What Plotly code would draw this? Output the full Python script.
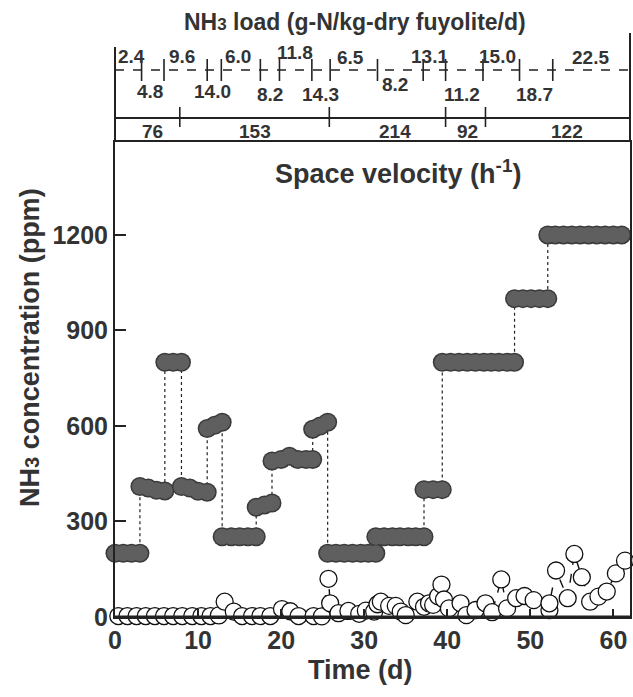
import plotly.graph_objects as go

# ---------------- data ----------------
# Inlet NH3 concentration (filled circles), ppm
inlet_days = [0, 1, 2, 3.0,
              3.0, 4, 5, 6.0,
              6.0, 7, 8.0,
              8.0, 9, 10, 11.1,
              11.1, 12, 12.9,
              12.9, 14, 15, 16, 17.0,
              17.0, 18, 18.9,
              18.9, 20, 21, 22, 23, 23.8,
              23.8, 24.7, 25.6,
              25.6, 26.6, 27.6, 28.6, 29.6, 30.5, 31.4,
              31.4, 32.4, 33.4, 34.3, 35.3, 36.2, 37.2,
              37.2, 38.3, 39.4,
              39.4, 40.4, 41.4, 42.4, 43.4, 44.4, 45.3, 46.2, 47.2, 48.1,
              48.1, 49.1, 50.1, 51.1, 52.1,
              52.1, 53, 54, 55, 56, 57, 58, 59, 60, 61.0]
inlet_ppm = [200, 200, 200, 200,
             410, 405, 398, 396,
             800, 800, 800,
             410, 405, 395, 392,
             592, 602, 612,
             252, 252, 252, 252, 252,
             345, 352, 358,
             490, 495, 505, 495, 495, 495,
             590, 600, 612,
             200, 200, 200, 200, 200, 200, 200,
             252, 252, 252, 252, 252, 252, 252,
             400, 400, 400,
             800, 800, 800, 800, 800, 800, 800, 800, 800, 800,
             1000, 1000, 1000, 1000, 1000,
             1200, 1200, 1200, 1200, 1200, 1200, 1200, 1200, 1200, 1200]

# Outlet NH3 concentration (open circles), ppm
outlet_days = [0.4, 1.5, 2.6, 3.7, 4.8, 5.9, 7.0, 8.1, 9.3, 10.4, 11.5, 12.5,
               13.2, 14.3, 15.3, 16.5, 17.5, 18.7, 20.1, 21.1, 22.1, 23.9, 24.9,
               25.7, 25.9, 26.9, 28.1, 29.4, 30.2, 31.2, 31.6, 32.0, 33.0, 33.8,
               34.4, 35.0, 36.4, 37.2, 37.8, 38.3, 38.9, 39.3, 39.6, 40.2, 41.6,
               42.3, 43.4, 44.6, 45.4, 46.5, 47.2, 48.3, 49.3, 50.4, 52.3, 52.3,
               53.1, 54.5, 55.3, 56.2, 57.2, 58.2, 59.2, 60.3, 61.4]
outlet_ppm = [3, 3, 3, 3, 3, 3, 3, 3, 3, 3, 3, 5,
              48, 17, 3, 3, 3, 3, 25, 18, 3, 3, 2,
              120, 43, 12, 19, 10, 20, 17, 40, 48, 35, 35,
              17, 6, 48, 32, 43, 38, 65, 102, 55, 27, 43,
              6, 22, 43, 15, 118, 27, 59, 66, 53, 22, 43,
              146, 59, 198, 125, 48, 64, 80, 137, 177]

x_ticks = [0, 10, 20, 30, 40, 50, 60]
y_ticks = [0, 300, 600, 900, 1200]

# NH3 load (g-N/kg-dry fuyolite/d) per period, and the days the load changed
load_values = ["2.4", "4.8", "9.6", "14.0", "6.0", "8.2", "11.8", "14.3",
               "6.5", "8.2", "13.1", "11.2", "15.0", "18.7", "22.5"]
load_change_days = [3.2, 5.9, 11.1, 12.8, 17.5, 19.8, 23.7, 25.9,
                    31.6, 37.1, 39.8, 44.3, 48.7, 52.7]

# Space velocity (h-1) per period, and the days it changed
sv_values = ["76", "153", "214", "92", "122"]
sv_change_days = [7.8, 25.8, 39.8, 44.6]

# ---------------- layout geometry ----------------
W, H = 633, 697
PL, PR, PT, PB = 115, 630, 142, 617          # plot box in page pixels
ML, MR, MT, MB = PL, W - PR, PT, H - PB
PW, PH = PR - PL, PB - PT


def py(p):
    """pixel row -> paper y"""
    return (PB - p) / PH


def px(p):
    """pixel column -> paper x"""
    return (p - PL) / PW


FONT = "Liberation Sans, Arial, Helvetica, sans-serif"
TXT = "#333333"

load_label_days = [0.15, 4.2, 8.1, 11.7, 14.8, 18.7, 21.7, 24.7,
                   28.3, 33.7, 37.9, 41.8, 46.0, 50.5, 57.2]
load_label_rows = [56, 91, 56, 91, 56, 94, 52, 94, 57, 84, 56, 94, 56, 94, 58]
sv_label_days = [4.5, 16.8, 33.7, 42.4, 54.4]

fig = go.Figure()

# inlet: dark rim layer (with dotted connectors) + grey fill layer
fig.add_trace(go.Scatter(
    x=inlet_days, y=inlet_ppm, mode="lines+markers",
    line=dict(color="#222222", width=1.2, dash="dot"),
    marker=dict(symbol="circle", size=19, color="#3a3a3a", line=dict(width=0)),
    cliponaxis=False, showlegend=False, hoverinfo="skip"))
fig.add_trace(go.Scatter(
    x=inlet_days, y=inlet_ppm, mode="markers",
    marker=dict(symbol="circle", size=16, color="#5f5f5f", line=dict(width=0)),
    cliponaxis=False, showlegend=False, hoverinfo="x+y"))

fig.add_trace(go.Scatter(
    x=outlet_days, y=outlet_ppm, mode="lines+markers",
    line=dict(color="#111111", width=1.4, dash="dash"),
    marker=dict(symbol="circle", size=17, color="white",
                line=dict(color="#111111", width=1.3)),
    cliponaxis=False, showlegend=False, hoverinfo="x+y"))

shapes = []
# header frame lines
shapes.append(dict(type="line", xref="paper", yref="paper", x0=0, x1=1,
                   y0=py(70), y1=py(70),
                   line=dict(color="#222", width=1.6, dash="dash")))
shapes.append(dict(type="line", xref="paper", yref="paper", x0=0, x1=1,
                   y0=py(118), y1=py(118), line=dict(color="#222", width=1.8)))
shapes.append(dict(type="line", xref="paper", yref="paper", x0=0, x1=0,
                   y0=py(47), y1=1, line=dict(color="#222", width=2)))
shapes.append(dict(type="line", xref="paper", yref="paper", x0=1, x1=1,
                   y0=py(33), y1=1, line=dict(color="#222", width=2)))
for d in load_change_days:
    shapes.append(dict(type="line", xref="x", yref="paper", x0=d, x1=d,
                       y0=py(59), y1=py(81), line=dict(color="#222", width=1.6)))
for d in sv_change_days:
    shapes.append(dict(type="line", xref="x", yref="paper", x0=d, x1=d,
                       y0=py(107), y1=py(127), line=dict(color="#222", width=1.6)))
# thicker bottom axis
shapes.append(dict(type="line", xref="paper", yref="paper", x0=0, x1=1,
                   y0=0, y1=0, line=dict(color="#222", width=3)))

ann = []
ann.append(dict(text="NH<span style='font-size:17px'>3</span> load (g-N/kg-dry fuyolite/d)",
                xref="paper", yref="paper", x=px(355), y=py(22),
                xanchor="center", yanchor="middle", showarrow=False,
                font=dict(size=23, color=TXT, family=FONT, weight="bold")))
for i, (lab, d, r) in enumerate(zip(load_values, load_label_days, load_label_rows)):
    ann.append(dict(text=lab, xref="x", yref="paper", x=d, y=py(r),
                    xanchor="left" if i == 0 else "center", yanchor="middle",
                    showarrow=False,
                    font=dict(size=19, color=TXT, family=FONT, weight="bold")))
for lab, d in zip(sv_values, sv_label_days):
    ann.append(dict(text=lab, xref="x", yref="paper", x=d, y=py(131),
                    xanchor="center", yanchor="middle", showarrow=False,
                    font=dict(size=19, color=TXT, family=FONT, weight="bold")))
ann.append(dict(text="Space velocity (h<sup>-1</sup>)", xref="paper", yref="paper",
                x=px(398), y=py(172), xanchor="center",
                yanchor="middle", showarrow=False,
                font=dict(size=27, color=TXT, family=FONT, weight="bold")))
ann.append(dict(text="NH<span style='font-size:20px'>3</span> concentration (ppm)",
                xref="paper", yref="paper", x=px(30), y=py(348),
                textangle=-90, xanchor="center", yanchor="middle", showarrow=False,
                font=dict(size=27, color=TXT, family=FONT, weight="bold")))
ann.append(dict(text="Time (d)", xref="paper", yref="paper",
                x=px(360), y=py(670),
                xanchor="center", yanchor="middle", showarrow=False,
                font=dict(size=27, color=TXT, family=FONT, weight="bold")))

fig.update_layout(
    width=W, height=H,
    margin=dict(l=ML, r=MR, t=MT, b=MB, pad=0),
    paper_bgcolor="white", plot_bgcolor="white",
    font=dict(family=FONT, color=TXT),
    shapes=shapes, annotations=ann, showlegend=False,
    xaxis=dict(range=[0, 62.0], tickvals=x_ticks, ticktext=[str(v) for v in x_ticks],
               ticks="inside", ticklen=8, tickwidth=2, tickcolor="#222",
               showline=True, mirror=True, linewidth=2, linecolor="#222",
               showgrid=False, zeroline=False, automargin=False,
               ticklabeloverflow="allow",
               tickfont=dict(size=25, color=TXT, family=FONT, weight="bold")),
    yaxis=dict(range=[0, 1492], tickvals=y_ticks, ticktext=[str(v) for v in y_ticks],
               ticks="inside", ticklen=11, tickwidth=2, tickcolor="#222",
               showline=True, mirror=True, linewidth=2, linecolor="#222",
               showgrid=False, zeroline=False, automargin=False,
               tickfont=dict(size=25, color=TXT, family=FONT, weight="bold")),
)

# remove the browser's default 8px body margin so the figure sits at (0, 0)
fig.write_html(
    "out.html",
    config={"displayModeBar": False},
    post_script="document.body.style.margin='0';"
                "document.documentElement.style.overflow='hidden';",
)
